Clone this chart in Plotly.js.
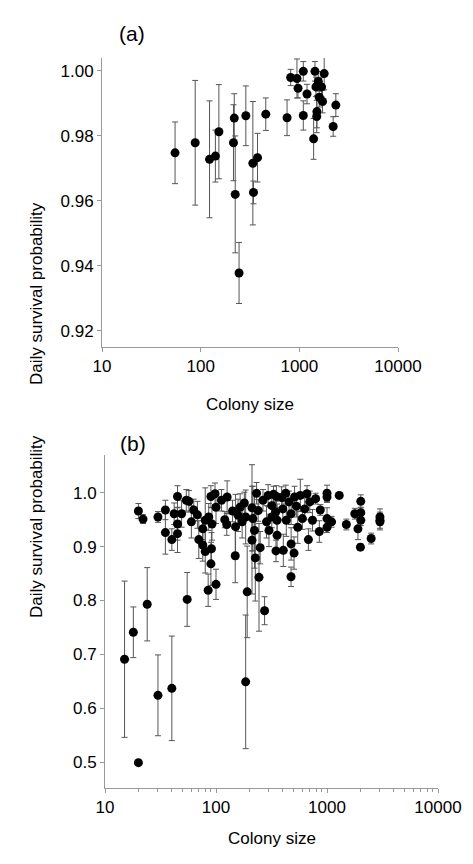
<!DOCTYPE html>
<html>
<head>
<meta charset="utf-8">
<script src="https://cdn.plot.ly/plotly-3.0.1.min.js"></script>
<style>body{margin:0;background:#fff}</style>
</head>
<body>
<div id="chart" style="width:473px;height:864px"></div>
<script>
// panel (a)
var sizeA = [55, 88, 123, 141, 153, 219, 215, 224, 245, 287, 338, 343, 377, 457, 751, 817, 946, 970, 1097, 1097, 1196, 1396, 1440, 1473, 1507, 1500, 1556, 1592, 1679, 1718, 1786, 2203, 2344];
var survA = [0.9748, 0.9779, 0.9728, 0.9738, 0.9813, 0.9855, 0.9779, 0.9620, 0.9378, 0.9862, 0.9716, 0.9626, 0.9733, 0.9867, 0.9856, 0.9980, 0.9977, 0.9947, 0.9999, 0.9863, 0.9929, 0.9791, 0.9999, 0.9951, 0.9875, 0.9860, 0.9968, 0.9919, 0.9951, 0.9906, 0.9992, 0.9829, 0.9895];
var errA = [0.0095, 0.0192, 0.018, 0.008, 0.0145, 0.0075, 0.0117, 0.018, 0.0094, 0.0092, 0.019, 0.0035, 0.0075, 0.005, 0.0055, 0.0025, 0.006, 0.003, 0.003, 0.0045, 0.003, 0.0063, 0.003, 0.003, 0.005, 0.005, 0.003, 0.003, 0.003, 0.0035, 0.005, 0.003, 0.0035];

// panel (b)
var sizeB = [15, 18, 24, 20, 30, 40, 55, 185, 191, 274, 85, 100, 90, 149, 244, 474, 226, 475, 505, 404, 347, 680, 853, 2000, 2500, 1900, 2015, 2015, 2015, 1780, 3000, 3000, 3000, 1494, 1289, 1000, 1000, 1000, 1100, 1000, 870, 790,
  20, 22, 30, 35, 35, 40, 42, 45, 45, 45, 49, 54, 57, 60, 63, 68, 70, 76, 80, 91, 76, 80, 86, 92, 90, 98, 100, 112, 120, 126, 125, 141, 150, 158, 165, 172, 180, 185, 211, 215, 211, 222, 232, 240, 250, 265, 285, 295, 300, 318, 330, 345, 355, 355, 390, 400, 425, 430, 455, 475, 510, 530, 545, 575, 600, 630, 660, 700, 740, 350, 318];
var survB = [0.691, 0.741, 0.793, 0.499, 0.624, 0.637, 0.802, 0.649, 0.816, 0.781, 0.819, 0.830, 0.868, 0.883, 0.843, 0.844, 0.879, 0.905, 0.888, 0.893, 0.892, 0.913, 0.928, 0.899, 0.915, 0.933, 0.984, 0.963, 0.949, 0.961, 0.955, 0.949, 0.946, 0.941, 0.995, 0.999, 0.992, 0.936, 0.946, 0.952, 0.968, 0.989,
  0.966, 0.951, 0.955, 0.968, 0.926, 0.913, 0.961, 0.993, 0.942, 0.924, 0.961, 0.986, 0.984, 0.946, 0.968, 0.959, 0.913, 0.903, 0.891, 0.896, 0.933, 0.949, 0.955, 0.942, 0.993, 0.998, 0.973, 0.986, 0.950, 0.992, 0.941, 0.966, 0.937, 0.958, 0.973, 0.946, 0.981, 0.955, 0.972, 0.952, 0.912, 0.930, 0.999, 0.967, 0.898, 0.986, 0.946, 0.995, 0.930, 0.976, 0.997, 0.964, 0.949, 0.921, 0.991, 0.970, 0.999, 0.949, 0.983, 0.961, 0.992, 0.975, 0.936, 0.995, 0.952, 0.970, 0.998, 0.983, 0.949, 0.993, 0.955];
var errB = [0.145, 0.047, 0.068, 0, 0.075, 0.097, 0.05, 0.124, 0.085, 0.026, 0.03, 0.028, 0.04, 0.05, 0.1, 0.018, 0.08, 0.03, 0.03, 0.03, 0.02, 0.02, 0.02, 0.006, 0.01, 0.02, 0.012, 0.01, 0.01, 0.01, 0.015, 0.015, 0.015, 0.01, 0.005, 0.015, 0.01, 0.01, 0.01, 0.02, 0.01, 0.01,
  0.014, 0.008, 0.01, 0.018, 0.04, 0.02, 0.02, 0.02, 0.03, 0.035, 0.025, 0.02, 0.02, 0.03, 0.02, 0.025, 0.035, 0.03, 0.04, 0.03, 0.02, 0.06, 0.025, 0.03, 0.02, 0.02, 0.03, 0.02, 0.015, 0.03, 0.02, 0.02, 0.06, 0.03, 0.025, 0.03, 0.02, 0.05, 0.08, 0.06, 0.1, 0.07, 0.02, 0.02, 0.03, 0.02, 0.03, 0.02, 0.03, 0.02, 0.015, 0.02, 0.03, 0.03, 0.02, 0.02, 0.015, 0.03, 0.02, 0.02, 0.02, 0.02, 0.03, 0.03, 0.02, 0.02, 0.015, 0.02, 0.02, 0.02, 0.02];

function trace(x, y, e, xa, ya) {
  return {
    x: x, y: y, xaxis: xa, yaxis: ya, type: 'scatter', mode: 'markers',
    marker: {color: '#000', size: 9},
    error_y: {type: 'data', array: e, visible: true, color: '#555', thickness: 1, width: 3},
    showlegend: false, hoverinfo: 'skip'
  };
}

var ff = 'Liberation Sans, Arial, sans-serif';
function xax(domain, anchor, minor) {
  var a = {
    type: 'log', range: [1, 4], domain: domain, anchor: anchor,
    tickvals: [10, 100, 1000, 10000], ticktext: ['10', '100', '1000', '10000'],
    ticks: 'outside', ticklen: 4, tickcolor: '#999',
    showline: true, linecolor: '#999', linewidth: 1, showgrid: false, zeroline: false,
    tickfont: {family: ff, size: 17, color: '#000'}
  };
  if (minor) a.minor = {ticks: 'outside', ticklen: 3, tickcolor: '#999', dtick: 'D1', showgrid: false};
  return a;
}
function yax(domain, anchor, range, dtick, fmt) {
  return {
    range: range, domain: domain, anchor: anchor, dtick: dtick, tick0: 0, tickformat: fmt,
    ticks: 'outside', ticklen: 4, tickcolor: '#999',
    showline: true, linecolor: '#999', linewidth: 1, showgrid: false, zeroline: false,
    tickfont: {family: ff, size: 17, color: '#000'}
  };
}

var layout = {
  width: 473, height: 864,
  margin: {l: 0, r: 0, t: 0, b: 0},
  paper_bgcolor: '#fff', plot_bgcolor: '#fff',
  xaxis: xax([102 / 473, 398 / 473], 'y', false),
  yaxis: yax([1 - 347 / 864, 1 - 58 / 864], 'x', [0.915, 1.004], 0.02, '.2f'),
  xaxis2: xax([105 / 473, 438 / 473], 'y2', true),
  yaxis2: yax([1 - 788 / 864, 1 - 455 / 864], 'x2', [0.452, 1.07], 0.1, '.1f'),
  annotations: [
    {text: '(a)', x: 117 / 473, y: 1 - 20 / 864, xref: 'paper', yref: 'paper', showarrow: false, font: {family: ff, size: 21, color: '#000'}},
    {text: '(b)', x: 118 / 473, y: 1 - 443 / 864, xref: 'paper', yref: 'paper', showarrow: false, font: {family: ff, size: 21, color: '#000'}},
    {text: 'Colony size', x: 250 / 473, y: 1 - 404 / 864, xref: 'paper', yref: 'paper', showarrow: false, font: {family: ff, size: 17, color: '#000'}},
    {text: 'Colony size', x: 272 / 473, y: 1 - 850 / 864, xref: 'paper', yref: 'paper', showarrow: false, font: {family: ff, size: 17, color: '#000'}},
    {text: 'Daily survival probability', x: 25 / 473, y: 1 - 200 / 864, xref: 'paper', yref: 'paper', showarrow: false, textangle: -90, font: {family: ff, size: 17, color: '#000'}},
    {text: 'Daily survival probability', x: 25 / 473, y: 1 - 620 / 864, xref: 'paper', yref: 'paper', showarrow: false, textangle: -90, font: {family: ff, size: 17, color: '#000'}}
  ]
};

Plotly.newPlot('chart', [trace(sizeA, survA, errA, 'x', 'y'), trace(sizeB, survB, errB, 'x2', 'y2')], layout, {staticPlot: true});
</script>
</body>
</html>
